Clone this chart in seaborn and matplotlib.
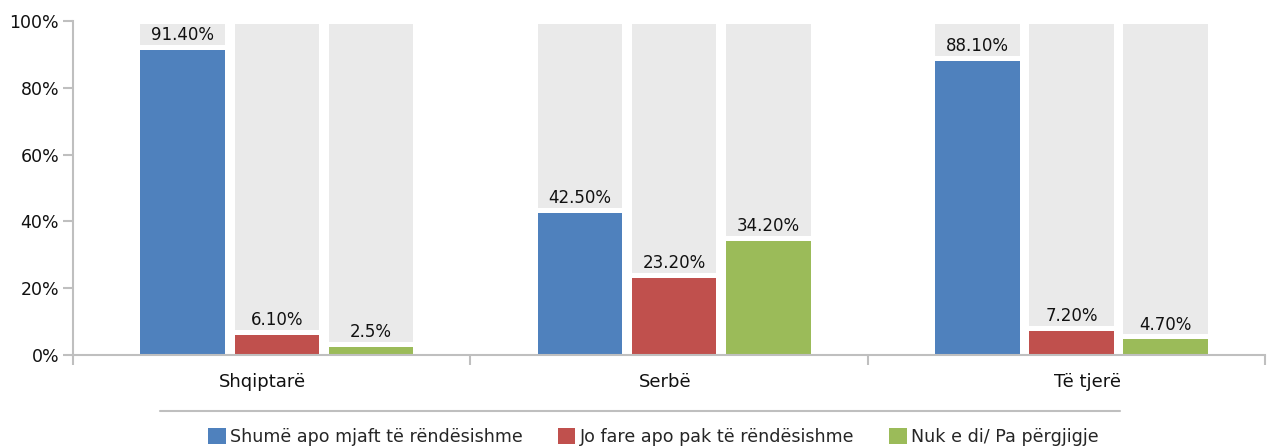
import matplotlib
matplotlib.use("Agg")
import matplotlib.pyplot as plt
from matplotlib.patches import Patch
from matplotlib.lines import Line2D
from matplotlib.ticker import FixedLocator, FuncFormatter
from matplotlib.transforms import ScaledTranslation
import seaborn as sns
import pandas as pd

# ---- data ----
groups = ["Shqiptarë", "Serbë", "Të tjerë"]
series = ["Shumë apo mjaft të rëndësishme", "Jo fare apo pak të rëndësishme", "Nuk e di/ Pa përgjigje"]
shume = [91.4, 42.5, 88.1]
jo_fare = [6.1, 23.2, 7.2]
nuk_e_di = [2.5, 34.2, 4.7]
label_shume = ["91.40%", "42.50%", "88.10%"]
label_jo_fare = ["6.10%", "23.20%", "7.20%"]
label_nuk_e_di = ["2.5%", "34.20%", "4.70%"]
yticks = [0, 20, 40, 60, 80, 100]

colors = ["#4F81BD", "#C0504D", "#9BBB59"]
BG_FULL = 99.2      # height of grey background columns
GAP = 1.5           # white gap between bar and label area

rows = []
for s, vals in zip(series, [shume, jo_fare, nuk_e_di]):
    for g, v in zip(groups, vals):
        rows.append({"group": g, "series": s, "value": v})
df = pd.DataFrame(rows)
df["bg"] = BG_FULL
df["white"] = df["value"] + GAP

sns.set_style("white")
plt.rcParams["font.family"] = ["DejaVu Sans"]

fig = plt.figure(figsize=(12.71, 4.48), dpi=100)
ax = fig.add_axes([73 / 1271, 93 / 448, (1265 - 73) / 1271, (355 - 21) / 448])

common = dict(data=df, x="group", hue="series", order=groups, hue_order=series,
              width=0.71, gap=0.1, legend=False, ax=ax, linewidth=0, saturation=1)
sns.barplot(y="bg", palette=["#EAEAEA"] * 3, **common)
sns.barplot(y="white", palette=["#FFFFFF"] * 3, **common)
sns.barplot(y="value", palette=colors, **common)

for cont, labs in zip(ax.containers[-3:], [label_shume, label_jo_fare, label_nuk_e_di]):
    ax.bar_label(cont, labels=labs, padding=4, fontsize=12, color="#111111")

x0 = -0.513
ax.set_ylim(0, 100)
ax.set_xlim(x0, x0 + 3)
ax.set_yticks(yticks)
ax.yaxis.set_major_formatter(FuncFormatter(lambda v, p: f"{int(v)}%"))
ax.set_xlabel("")
ax.set_ylabel("")
ax.xaxis.set_minor_locator(FixedLocator([x0, x0 + 1, x0 + 2, x0 + 3]))
ax.tick_params(axis="x", which="major", length=0, pad=13, labelsize=13, colors="#111111")
ax.tick_params(axis="x", which="minor", length=7, width=1.5, color="#BFBFBF", direction="out", bottom=True)
ax.tick_params(axis="y", which="major", length=7, width=1.5, color="#BFBFBF", direction="out",
               left=True, pad=3, labelsize=12.5, labelcolor="#111111")

# category labels are not exactly centred in the reference
for lab, dx in zip(ax.get_xticklabels(), [-14, -9, 16]):
    lab.set_transform(lab.get_transform() + ScaledTranslation(dx / 100, 0, fig.dpi_scale_trans))

for side in ["top", "right"]:
    ax.spines[side].set_visible(False)
for side in ["left", "bottom"]:
    ax.spines[side].set_color("#BFBFBF")
    ax.spines[side].set_linewidth(1.5)

# separator line above legend
fig.add_artist(Line2D([160 / 1271, 1120 / 1271], [37 / 448, 37 / 448],
                      color="#BFBFBF", linewidth=1.5, transform=fig.transFigure))

handles = [Patch(facecolor=c, edgecolor="none") for c in colors]
fig.legend(handles, series, loc="center", bbox_to_anchor=(0.514, 11 / 448), ncol=3,
           frameon=False, handlelength=1.0, handleheight=1.0, handletextpad=0.25,
           columnspacing=2.0, fontsize=12.6, borderpad=0)

fig.savefig("out.png", dpi=100)
